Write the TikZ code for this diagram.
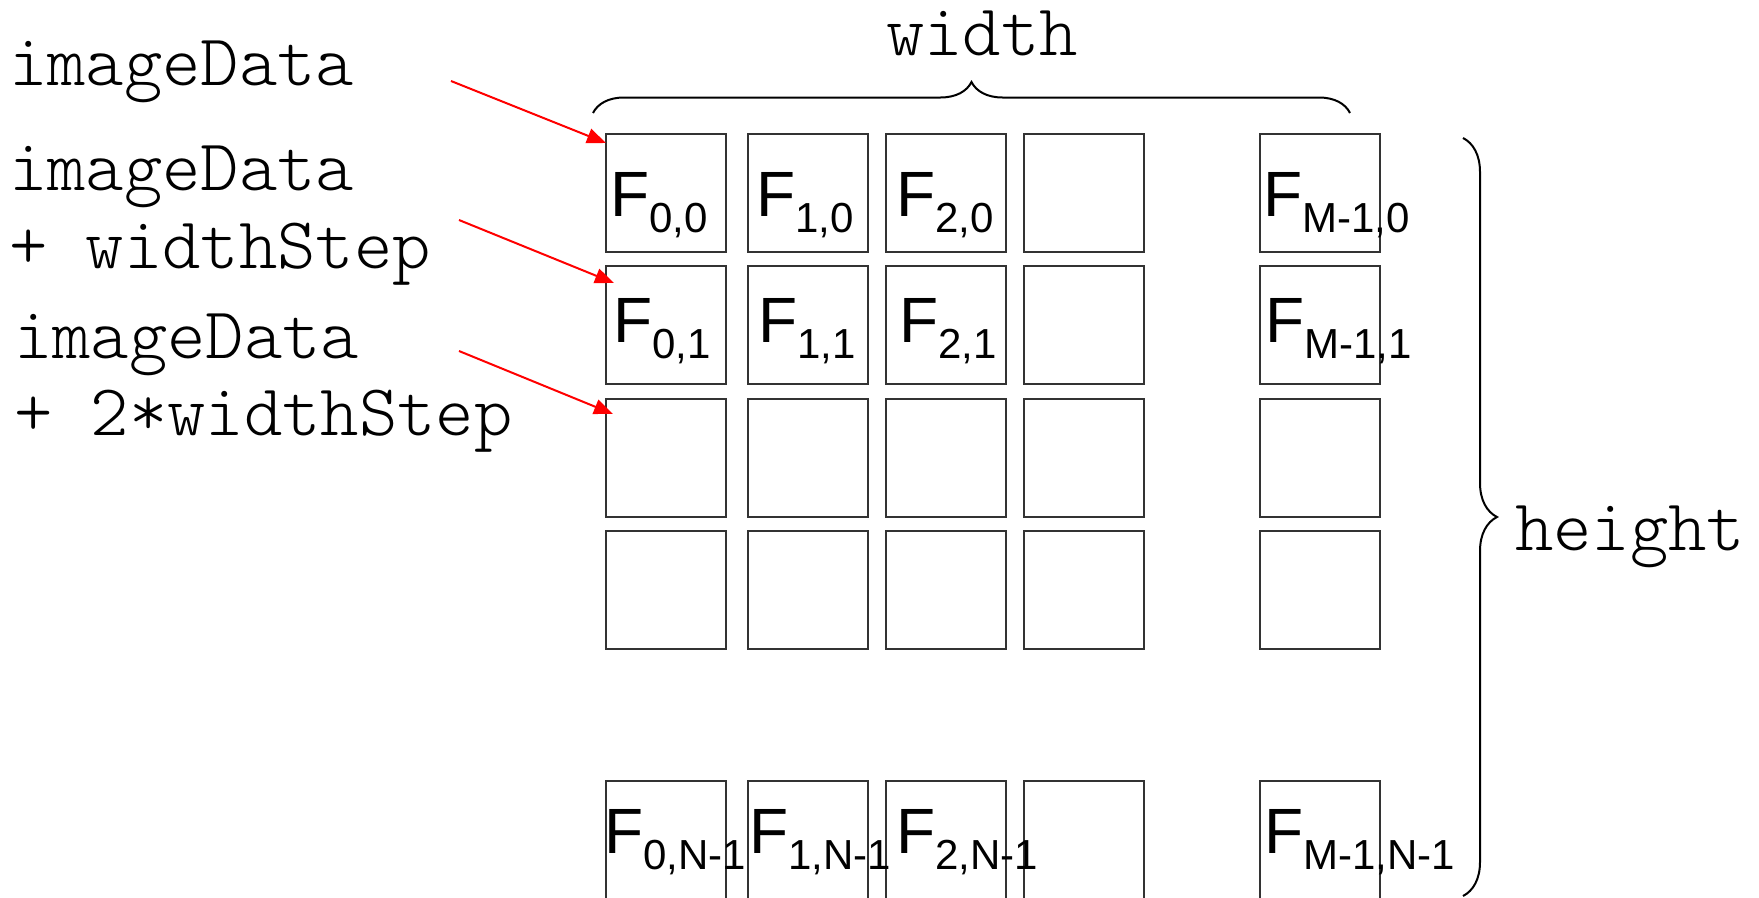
\documentclass[tikz,border=0pt]{standalone}
\usepackage{fontspec}
\setmainfont{Liberation Sans}
\newfontfamily\monof{lmmonolt10-regular.otf}
\usetikzlibrary{arrows.meta,decorations.pathreplacing}
\newcommand\fsub[1]{\raisebox{-16pt}{\fontsize{42}{42}\selectfont #1}}
\begin{document}
\begin{tikzpicture}[x=1pt,y=-1pt,
  cell/.style={draw=black!80, line width=1.5pt, minimum width=120pt, minimum height=118pt, inner sep=0pt, outer sep=0pt},
  flabel/.style={anchor=base west, inner sep=0pt, font=\fontsize{64}{64}\selectfont},
  code/.style={anchor=base west, inner sep=0pt, font=\monof\fontsize{73}{73}\selectfont},
  ptr/.style={draw=red, line width=2pt, -{Triangle[length=19pt,width=15pt]}},
  bracestyle/.style={decorate, decoration={brace, amplitude=#1}, line width=2pt}
]
\useasboundingbox (0,0) rectangle (1759,897);

% cells
\foreach \c/\x in {0/666,1/808,2/946,3/1084,4/1320}
  \foreach \r/\y in {0/193,1/325,2/458,3/590,4/840}
    \node[cell] (b\c\r) at (\x,\y) {};

% cell labels
\node[flabel] (l00) at (610,216) {F\fsub{0,0}};
\node[flabel] (l10) at (756,216) {F\fsub{1,0}};
\node[flabel] (l20) at (896,216) {F\fsub{2,0}};
\node[flabel] (l40) at (1263,216) {F\fsub{M-1,0}};
\node[flabel] (l01) at (613,342) {F\fsub{0,1}};
\node[flabel] (l11) at (758,342) {F\fsub{1,1}};
\node[flabel] (l21) at (899,342) {F\fsub{2,1}};
\node[flabel] (l41) at (1265,342) {F\fsub{M-1,1}};
\node[flabel] (l04) at (604,853) {F\fsub{0,N-1}};
\node[flabel] (l14) at (749,853) {F\fsub{1,N-1}};
\node[flabel] (l24) at (896,853) {F\fsub{2,N-1}};
\node[flabel] (l44) at (1264,853) {F\fsub{M-1,N-1}};

% code texts
\node[code] (t1) at (9,85) {imageData};
\node[code] (t2) at (9,190) {imageData};
\node[code] (t3) at (9,268) {+ widthStep};
\node[code] (t4) at (14,358) {imageData};
\node[code] (t5) at (14,435) {+ 2*widthStep};
\node[code, anchor=base] (tw) at (982,55) {width};
\node[code] (th) at (1515,550) {height};

% pointers
\coordinate (s1) at (451,81);
\coordinate (s2) at (459,220);
\coordinate (s3) at (459,351);
\draw[ptr] (s1) -- ([shift={(0,9)}]b00.north west);
\draw[ptr] (s2) -- ([shift={(8,17)}]b01.north west);
\draw[ptr] (s3) -- ([shift={(7,15)}]b02.north west);

% braces
\coordinate (wl) at (593,113);
\coordinate (wr) at (1350,113);
\draw[bracestyle=31pt] (wl) -- (wr);
\coordinate (ht) at (1463,138);
\coordinate (hb) at (1463,896);
\draw[bracestyle=34pt] (ht) -- (hb);
\end{tikzpicture}
\end{document}
